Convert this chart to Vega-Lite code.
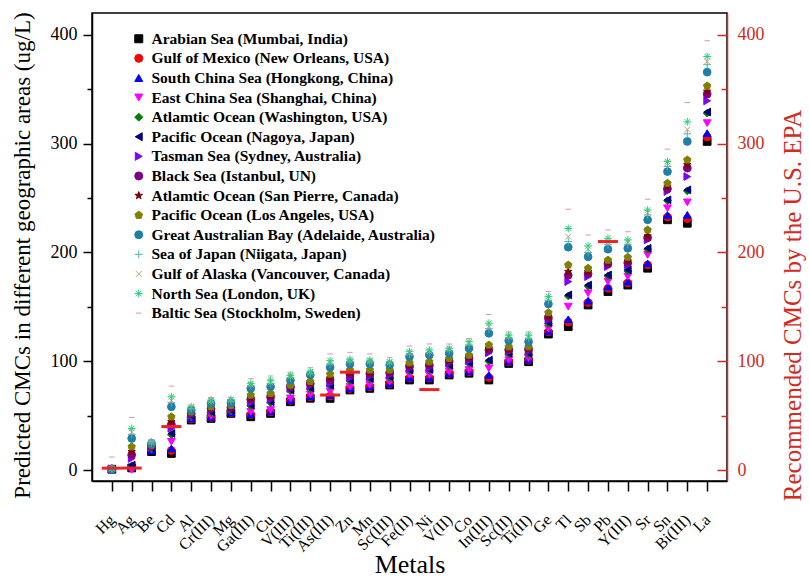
{
  "$schema": "https://vega.github.io/schema/vega-lite/v6.json",
  "width": 635,
  "height": 468,
  "autosize": {"type": "none"},
  "padding": {"left": 92, "top": 13, "right": 82, "bottom": 99},
  "background": "#ffffff",
  "config": {
    "font": "Liberation Serif",
    "view": {"stroke": "#000000", "strokeWidth": 1.5}
  },
  "datasets": {
    "sites": [
      {"k": 1, "site": "Arabian Sea (Mumbai, India)"},
      {"k": 2, "site": "Gulf of Mexico (New Orleans, USA)"},
      {"k": 3, "site": "South China Sea (Hongkong, China)"},
      {"k": 4, "site": "East China Sea (Shanghai, China)"},
      {"k": 5, "site": "Atlamtic Ocean (Washington, USA)"},
      {"k": 6, "site": "Pacific Ocean (Nagoya, Japan)"},
      {"k": 7, "site": "Tasman Sea (Sydney, Australia)"},
      {"k": 8, "site": "Black Sea (Istanbul, UN)"},
      {"k": 9, "site": "Atlamtic Ocean (San Pierre, Canada)"},
      {"k": 10, "site": "Pacific Ocean (Los Angeles, USA)"},
      {"k": 11, "site": "Great Australian Bay (Adelaide, Australia)"},
      {"k": 12, "site": "Sea of Japan (Niigata, Japan)"},
      {"k": 13, "site": "Gulf of Alaska (Vancouver, Canada)"},
      {"k": 14, "site": "North Sea (London, UK)"},
      {"k": 15, "site": "Baltic Sea (Stockholm, Sweden)"}
    ],
    "epa": [
      {"m": "Hg", "v": 1.8},
      {"m": "Ag", "v": 1.9},
      {"m": "Cd", "v": 40},
      {"m": "As(III)", "v": 69},
      {"m": "Zn", "v": 90},
      {"m": "Ni", "v": 74},
      {"m": "Pb", "v": 210}
    ],
    "cmc": [
      {"m":"Hg","k":1,"v":0.8},{"m":"Ag","k":1,"v":2},{"m":"Be","k":1,"v":17},{"m":"Cd","k":1,"v":15.3},{"m":"Al","k":1,"v":46},{"m":"Cr(III)","k":1,"v":47.5},{"m":"Mg","k":1,"v":52.1},{"m":"Ga(III)","k":1,"v":49},{"m":"Cu","k":1,"v":52.1},{"m":"V(III)","k":1,"v":62.8},{"m":"Ti(III)","k":1,"v":66},{"m":"As(III)","k":1,"v":65.9},{"m":"Zn","k":1,"v":73.6},{"m":"Mn","k":1,"v":75.1},{"m":"Sc(III)","k":1,"v":78.2},{"m":"Fe(II)","k":1,"v":82.8},{"m":"Ni","k":1,"v":82.8},{"m":"V(II)","k":1,"v":87.4},{"m":"Co","k":1,"v":89},{"m":"In(III)","k":1,"v":82.8},{"m":"Sc(II)","k":1,"v":98},{"m":"Ti(II)","k":1,"v":99.6},{"m":"Ge","k":1,"v":125},{"m":"Tl","k":1,"v":131.8},{"m":"Sb","k":1,"v":151.7},{"m":"Pb","k":1,"v":164},{"m":"Y(III)","k":1,"v":170},{"m":"Sr","k":1,"v":185.5},{"m":"Sn","k":1,"v":230},{"m":"Bi(III)","k":1,"v":226.8},{"m":"La","k":1,"v":302},
      {"m":"Hg","k":2,"v":0.9},{"m":"Ag","k":2,"v":2.5},{"m":"Be","k":2,"v":18.5},{"m":"Cd","k":2,"v":18},{"m":"Al","k":2,"v":47},{"m":"Cr(III)","k":2,"v":48.5},{"m":"Mg","k":2,"v":53},{"m":"Ga(III)","k":2,"v":51},{"m":"Cu","k":2,"v":53.5},{"m":"V(III)","k":2,"v":64},{"m":"Ti(III)","k":2,"v":67.5},{"m":"As(III)","k":2,"v":68},{"m":"Zn","k":2,"v":75},{"m":"Mn","k":2,"v":76.5},{"m":"Sc(III)","k":2,"v":79.5},{"m":"Fe(II)","k":2,"v":84.5},{"m":"Ni","k":2,"v":84.5},{"m":"V(II)","k":2,"v":88.8},{"m":"Co","k":2,"v":90.5},{"m":"In(III)","k":2,"v":85},{"m":"Sc(II)","k":2,"v":99.5},{"m":"Ti(II)","k":2,"v":101},{"m":"Ge","k":2,"v":127},{"m":"Tl","k":2,"v":136},{"m":"Sb","k":2,"v":154},{"m":"Pb","k":2,"v":167},{"m":"Y(III)","k":2,"v":172},{"m":"Sr","k":2,"v":188.5},{"m":"Sn","k":2,"v":232.5},{"m":"Bi(III)","k":2,"v":231},{"m":"La","k":2,"v":306},
      {"m":"Hg","k":3,"v":1.0},{"m":"Ag","k":3,"v":3.7},{"m":"Be","k":3,"v":18},{"m":"Cd","k":3,"v":19.9},{"m":"Al","k":3,"v":47.5},{"m":"Cr(III)","k":3,"v":49},{"m":"Mg","k":3,"v":53.2},{"m":"Ga(III)","k":3,"v":51.5},{"m":"Cu","k":3,"v":54},{"m":"V(III)","k":3,"v":64.5},{"m":"Ti(III)","k":3,"v":68},{"m":"As(III)","k":3,"v":69},{"m":"Zn","k":3,"v":75.5},{"m":"Mn","k":3,"v":77},{"m":"Sc(III)","k":3,"v":80},{"m":"Fe(II)","k":3,"v":85},{"m":"Ni","k":3,"v":85},{"m":"V(II)","k":3,"v":89.2},{"m":"Co","k":3,"v":91},{"m":"In(III)","k":3,"v":87.4},{"m":"Sc(II)","k":3,"v":100},{"m":"Ti(II)","k":3,"v":101.5},{"m":"Ge","k":3,"v":127.5},{"m":"Tl","k":3,"v":138.6},{"m":"Sb","k":3,"v":155.7},{"m":"Pb","k":3,"v":168.6},{"m":"Y(III)","k":3,"v":173.2},{"m":"Sr","k":3,"v":190},{"m":"Sn","k":3,"v":234.5},{"m":"Bi(III)","k":3,"v":234.5},{"m":"La","k":3,"v":309.6},
      {"m":"Hg","k":4,"v":0.5},{"m":"Ag","k":4,"v":0.2},{"m":"Be","k":4,"v":19},{"m":"Cd","k":4,"v":26},{"m":"Al","k":4,"v":48.5},{"m":"Cr(III)","k":4,"v":49.7},{"m":"Mg","k":4,"v":54},{"m":"Ga(III)","k":4,"v":53.6},{"m":"Cu","k":4,"v":55.2},{"m":"V(III)","k":4,"v":65.9},{"m":"Ti(III)","k":4,"v":69.5},{"m":"As(III)","k":4,"v":72},{"m":"Zn","k":4,"v":76.6},{"m":"Mn","k":4,"v":78.2},{"m":"Sc(III)","k":4,"v":81.2},{"m":"Fe(II)","k":4,"v":87.4},{"m":"Ni","k":4,"v":87.4},{"m":"V(II)","k":4,"v":90.4},{"m":"Co","k":4,"v":92},{"m":"In(III)","k":4,"v":93.5},{"m":"Sc(II)","k":4,"v":101},{"m":"Ti(II)","k":4,"v":102.7},{"m":"Ge","k":4,"v":130},{"m":"Tl","k":4,"v":150.2},{"m":"Sb","k":4,"v":162.5},{"m":"Pb","k":4,"v":173.2},{"m":"Y(III)","k":4,"v":177.8},{"m":"Sr","k":4,"v":197.7},{"m":"Sn","k":4,"v":240.6},{"m":"Bi(III)","k":4,"v":246},{"m":"La","k":4,"v":318.8},
      {"m":"Hg","k":5,"v":0.9},{"m":"Ag","k":5,"v":4.0},{"m":"Be","k":5,"v":20},{"m":"Cd","k":5,"v":32.5},{"m":"Al","k":5,"v":49.5},{"m":"Cr(III)","k":5,"v":53},{"m":"Mg","k":5,"v":54.8},{"m":"Ga(III)","k":5,"v":59},{"m":"Cu","k":5,"v":62},{"m":"V(III)","k":5,"v":72.8},{"m":"Ti(III)","k":5,"v":74.5},{"m":"As(III)","k":5,"v":77.5},{"m":"Zn","k":5,"v":82},{"m":"Mn","k":5,"v":83.5},{"m":"Sc(III)","k":5,"v":85},{"m":"Fe(II)","k":5,"v":91.3},{"m":"Ni","k":5,"v":91.8},{"m":"V(II)","k":5,"v":95.8},{"m":"Co","k":5,"v":98},{"m":"In(III)","k":5,"v":100},{"m":"Sc(II)","k":5,"v":106.5},{"m":"Ti(II)","k":5,"v":106.5},{"m":"Ge","k":5,"v":134.5},{"m":"Tl","k":5,"v":160},{"m":"Sb","k":5,"v":169},{"m":"Pb","k":5,"v":178.5},{"m":"Y(III)","k":5,"v":183},{"m":"Sr","k":5,"v":203},{"m":"Sn","k":5,"v":247.5},{"m":"Bi(III)","k":5,"v":256.5},{"m":"La","k":5,"v":328},
      {"m":"Hg","k":6,"v":1.0},{"m":"Ag","k":6,"v":4.6},{"m":"Be","k":6,"v":20.5},{"m":"Cd","k":6,"v":33.7},{"m":"Al","k":6,"v":50},{"m":"Cr(III)","k":6,"v":53.6},{"m":"Mg","k":6,"v":55.2},{"m":"Ga(III)","k":6,"v":59.8},{"m":"Cu","k":6,"v":62.8},{"m":"V(III)","k":6,"v":73.6},{"m":"Ti(III)","k":6,"v":75.5},{"m":"As(III)","k":6,"v":78.2},{"m":"Zn","k":6,"v":82.8},{"m":"Mn","k":6,"v":84.3},{"m":"Sc(III)","k":6,"v":85.8},{"m":"Fe(II)","k":6,"v":92},{"m":"Ni","k":6,"v":92.6},{"m":"V(II)","k":6,"v":96.6},{"m":"Co","k":6,"v":98.7},{"m":"In(III)","k":6,"v":101},{"m":"Sc(II)","k":6,"v":107.3},{"m":"Ti(II)","k":6,"v":107.3},{"m":"Ge","k":6,"v":135.5},{"m":"Tl","k":6,"v":161},{"m":"Sb","k":6,"v":170},{"m":"Pb","k":6,"v":179.3},{"m":"Y(III)","k":6,"v":184},{"m":"Sr","k":6,"v":203.8},{"m":"Sn","k":6,"v":248.3},{"m":"Bi(III)","k":6,"v":257.5},{"m":"La","k":6,"v":329},
      {"m":"Hg","k":7,"v":1.1},{"m":"Ag","k":7,"v":10.7},{"m":"Be","k":7,"v":21},{"m":"Cd","k":7,"v":38.5},{"m":"Al","k":7,"v":51},{"m":"Cr(III)","k":7,"v":55},{"m":"Mg","k":7,"v":56.5},{"m":"Ga(III)","k":7,"v":62},{"m":"Cu","k":7,"v":65},{"m":"V(III)","k":7,"v":75},{"m":"Ti(III)","k":7,"v":77.5},{"m":"As(III)","k":7,"v":79.7},{"m":"Zn","k":7,"v":85},{"m":"Mn","k":7,"v":86},{"m":"Sc(III)","k":7,"v":87.5},{"m":"Fe(II)","k":7,"v":93.5},{"m":"Ni","k":7,"v":94},{"m":"V(II)","k":7,"v":98},{"m":"Co","k":7,"v":100.5},{"m":"In(III)","k":7,"v":107.8},{"m":"Sc(II)","k":7,"v":109},{"m":"Ti(II)","k":7,"v":109},{"m":"Ge","k":7,"v":138},{"m":"Tl","k":7,"v":173.2},{"m":"Sb","k":7,"v":177.8},{"m":"Pb","k":7,"v":187},{"m":"Y(III)","k":7,"v":188.5},{"m":"Sr","k":7,"v":211.5},{"m":"Sn","k":7,"v":256},{"m":"Bi(III)","k":7,"v":269.7},{"m":"La","k":7,"v":339.3},
      {"m":"Hg","k":8,"v":1.2},{"m":"Ag","k":8,"v":14},{"m":"Be","k":8,"v":22},{"m":"Cd","k":8,"v":42},{"m":"Al","k":8,"v":52},{"m":"Cr(III)","k":8,"v":56.5},{"m":"Mg","k":8,"v":57.5},{"m":"Ga(III)","k":8,"v":65},{"m":"Cu","k":8,"v":67.5},{"m":"V(III)","k":8,"v":76.5},{"m":"Ti(III)","k":8,"v":79.5},{"m":"As(III)","k":8,"v":83},{"m":"Zn","k":8,"v":88},{"m":"Mn","k":8,"v":88.5},{"m":"Sc(III)","k":8,"v":89.5},{"m":"Fe(II)","k":8,"v":95.5},{"m":"Ni","k":8,"v":96.5},{"m":"V(II)","k":8,"v":100},{"m":"Co","k":8,"v":103},{"m":"In(III)","k":8,"v":110.5},{"m":"Sc(II)","k":8,"v":110.5},{"m":"Ti(II)","k":8,"v":111},{"m":"Ge","k":8,"v":140},{"m":"Tl","k":8,"v":179},{"m":"Sb","k":8,"v":180.5},{"m":"Pb","k":8,"v":189.5},{"m":"Y(III)","k":8,"v":190.5},{"m":"Sr","k":8,"v":213.5},{"m":"Sn","k":8,"v":258.5},{"m":"Bi(III)","k":8,"v":277.5},{"m":"La","k":8,"v":345.5},
      {"m":"Hg","k":9,"v":1.2},{"m":"Ag","k":9,"v":16.9},{"m":"Be","k":9,"v":22.5},{"m":"Cd","k":9,"v":44.4},{"m":"Al","k":9,"v":52.5},{"m":"Cr(III)","k":9,"v":57},{"m":"Mg","k":9,"v":58},{"m":"Ga(III)","k":9,"v":66},{"m":"Cu","k":9,"v":68.5},{"m":"V(III)","k":9,"v":77},{"m":"Ti(III)","k":9,"v":80},{"m":"As(III)","k":9,"v":84.5},{"m":"Zn","k":9,"v":89},{"m":"Mn","k":9,"v":89.5},{"m":"Sc(III)","k":9,"v":90.3},{"m":"Fe(II)","k":9,"v":96.5},{"m":"Ni","k":9,"v":97.5},{"m":"V(II)","k":9,"v":100.8},{"m":"Co","k":9,"v":104},{"m":"In(III)","k":9,"v":112},{"m":"Sc(II)","k":9,"v":111},{"m":"Ti(II)","k":9,"v":111.5},{"m":"Ge","k":9,"v":141},{"m":"Tl","k":9,"v":182.4},{"m":"Sb","k":9,"v":182.4},{"m":"Pb","k":9,"v":190.5},{"m":"Y(III)","k":9,"v":192},{"m":"Sr","k":9,"v":215},{"m":"Sn","k":9,"v":260.5},{"m":"Bi(III)","k":9,"v":280.5},{"m":"La","k":9,"v":348},
      {"m":"Hg","k":10,"v":1.3},{"m":"Ag","k":10,"v":21.5},{"m":"Be","k":10,"v":23},{"m":"Cd","k":10,"v":49},{"m":"Al","k":10,"v":53.5},{"m":"Cr(III)","k":10,"v":58.2},{"m":"Mg","k":10,"v":59.5},{"m":"Ga(III)","k":10,"v":69},{"m":"Cu","k":10,"v":70.5},{"m":"V(III)","k":10,"v":78.2},{"m":"Ti(III)","k":10,"v":81.5},{"m":"As(III)","k":10,"v":88.3},{"m":"Zn","k":10,"v":92},{"m":"Mn","k":10,"v":92},{"m":"Sc(III)","k":10,"v":92},{"m":"Fe(II)","k":10,"v":98.7},{"m":"Ni","k":10,"v":99.6},{"m":"V(II)","k":10,"v":102.7},{"m":"Co","k":10,"v":105.7},{"m":"In(III)","k":10,"v":115},{"m":"Sc(II)","k":10,"v":113.4},{"m":"Ti(II)","k":10,"v":113.4},{"m":"Ge","k":10,"v":144.7},{"m":"Tl","k":10,"v":188.5},{"m":"Sb","k":10,"v":185.5},{"m":"Pb","k":10,"v":193},{"m":"Y(III)","k":10,"v":195.6},{"m":"Sr","k":10,"v":220.7},{"m":"Sn","k":10,"v":263.6},{"m":"Bi(III)","k":10,"v":285},{"m":"La","k":10,"v":353},
      {"m":"Hg","k":11,"v":0.6},{"m":"Ag","k":11,"v":29.1},{"m":"Be","k":11,"v":24.5},{"m":"Cd","k":11,"v":58.2},{"m":"Al","k":11,"v":55.2},{"m":"Cr(III)","k":11,"v":61.3},{"m":"Mg","k":11,"v":61.9},{"m":"Ga(III)","k":11,"v":75.1},{"m":"Cu","k":11,"v":76.6},{"m":"V(III)","k":11,"v":82.5},{"m":"Ti(III)","k":11,"v":87.4},{"m":"As(III)","k":11,"v":94.4},{"m":"Zn","k":11,"v":97.5},{"m":"Mn","k":11,"v":97.5},{"m":"Sc(III)","k":11,"v":96.6},{"m":"Fe(II)","k":11,"v":104.2},{"m":"Ni","k":11,"v":105.7},{"m":"V(II)","k":11,"v":107.3},{"m":"Co","k":11,"v":111.9},{"m":"In(III)","k":11,"v":125.7},{"m":"Sc(II)","k":11,"v":119},{"m":"Ti(II)","k":11,"v":118},{"m":"Ge","k":11,"v":152.6},{"m":"Tl","k":11,"v":204.8},{"m":"Sb","k":11,"v":196},{"m":"Pb","k":11,"v":203},{"m":"Y(III)","k":11,"v":203.8},{"m":"Sr","k":11,"v":230},{"m":"Sn","k":11,"v":274.3},{"m":"Bi(III)","k":11,"v":302},{"m":"La","k":11,"v":365.7},
      {"m":"Hg","k":12,"v":1.4},{"m":"Ag","k":12,"v":33},{"m":"Be","k":12,"v":25},{"m":"Cd","k":12,"v":62},{"m":"Al","k":12,"v":56.5},{"m":"Cr(III)","k":12,"v":63},{"m":"Mg","k":12,"v":63.5},{"m":"Ga(III)","k":12,"v":77.5},{"m":"Cu","k":12,"v":79.5},{"m":"V(III)","k":12,"v":85},{"m":"Ti(III)","k":12,"v":89},{"m":"As(III)","k":12,"v":97.5},{"m":"Zn","k":12,"v":100},{"m":"Mn","k":12,"v":99.5},{"m":"Sc(III)","k":12,"v":98.5},{"m":"Fe(II)","k":12,"v":106.5},{"m":"Ni","k":12,"v":108},{"m":"V(II)","k":12,"v":110},{"m":"Co","k":12,"v":115},{"m":"In(III)","k":12,"v":130},{"m":"Sc(II)","k":12,"v":121.5},{"m":"Ti(II)","k":12,"v":121},{"m":"Ge","k":12,"v":156},{"m":"Tl","k":12,"v":210},{"m":"Sb","k":12,"v":200},{"m":"Pb","k":12,"v":207},{"m":"Y(III)","k":12,"v":207.5},{"m":"Sr","k":12,"v":234.5},{"m":"Sn","k":12,"v":279},{"m":"Bi(III)","k":12,"v":309},{"m":"La","k":12,"v":372.5},
      {"m":"Hg","k":13,"v":1.5},{"m":"Ag","k":13,"v":35},{"m":"Be","k":13,"v":25.5},{"m":"Cd","k":13,"v":64},{"m":"Al","k":13,"v":57.5},{"m":"Cr(III)","k":13,"v":63.5},{"m":"Mg","k":13,"v":64.5},{"m":"Ga(III)","k":13,"v":78.5},{"m":"Cu","k":13,"v":80.5},{"m":"V(III)","k":13,"v":86},{"m":"Ti(III)","k":13,"v":89.5},{"m":"As(III)","k":13,"v":98.5},{"m":"Zn","k":13,"v":100.5},{"m":"Mn","k":13,"v":100},{"m":"Sc(III)","k":13,"v":99},{"m":"Fe(II)","k":13,"v":107.5},{"m":"Ni","k":13,"v":109},{"m":"V(II)","k":13,"v":110.8},{"m":"Co","k":13,"v":116.5},{"m":"In(III)","k":13,"v":132},{"m":"Sc(II)","k":13,"v":122.5},{"m":"Ti(II)","k":13,"v":122},{"m":"Ge","k":13,"v":157.5},{"m":"Tl","k":13,"v":214.5},{"m":"Sb","k":13,"v":203},{"m":"Pb","k":13,"v":209.5},{"m":"Y(III)","k":13,"v":209.5},{"m":"Sr","k":13,"v":236.5},{"m":"Sn","k":13,"v":282},{"m":"Bi(III)","k":13,"v":313},{"m":"La","k":13,"v":375.5},
      {"m":"Hg","k":14,"v":1.6},{"m":"Ag","k":14,"v":38.3},{"m":"Be","k":14,"v":26},{"m":"Cd","k":14,"v":67.4},{"m":"Al","k":14,"v":58.2},{"m":"Cr(III)","k":14,"v":64.4},{"m":"Mg","k":14,"v":65},{"m":"Ga(III)","k":14,"v":79.7},{"m":"Cu","k":14,"v":82.8},{"m":"V(III)","k":14,"v":87},{"m":"Ti(III)","k":14,"v":90.4},{"m":"As(III)","k":14,"v":100.5},{"m":"Zn","k":14,"v":101.8},{"m":"Mn","k":14,"v":101.1},{"m":"Sc(III)","k":14,"v":99.6},{"m":"Fe(II)","k":14,"v":108.8},{"m":"Ni","k":14,"v":110.3},{"m":"V(II)","k":14,"v":111.9},{"m":"Co","k":14,"v":118},{"m":"In(III)","k":14,"v":135},{"m":"Sc(II)","k":14,"v":124},{"m":"Ti(II)","k":14,"v":124},{"m":"Ge","k":14,"v":159.4},{"m":"Tl","k":14,"v":222},{"m":"Sb","k":14,"v":206},{"m":"Pb","k":14,"v":213},{"m":"Y(III)","k":14,"v":211.5},{"m":"Sr","k":14,"v":239},{"m":"Sn","k":14,"v":283.5},{"m":"Bi(III)","k":14,"v":320},{"m":"La","k":14,"v":380},
      {"m":"Hg","k":15,"v":12},{"m":"Ag","k":15,"v":48.4},{"m":"Be","k":15,"v":26.5},{"m":"Cd","k":15,"v":77.2},{"m":"Al","k":15,"v":59.5},{"m":"Cr(III)","k":15,"v":66.8},{"m":"Mg","k":15,"v":66.8},{"m":"Ga(III)","k":15,"v":84},{"m":"Cu","k":15,"v":86.5},{"m":"V(III)","k":15,"v":90},{"m":"Ti(III)","k":15,"v":94.1},{"m":"As(III)","k":15,"v":106.7},{"m":"Zn","k":15,"v":108.2},{"m":"Mn","k":15,"v":106.7},{"m":"Sc(III)","k":15,"v":103.6},{"m":"Fe(II)","k":15,"v":114},{"m":"Ni","k":15,"v":115.9},{"m":"V(II)","k":15,"v":115.9},{"m":"Co","k":15,"v":121},{"m":"In(III)","k":15,"v":143},{"m":"Sc(II)","k":15,"v":127},{"m":"Ti(II)","k":15,"v":127},{"m":"Ge","k":15,"v":164},{"m":"Tl","k":15,"v":239.7},{"m":"Sb","k":15,"v":216},{"m":"Pb","k":15,"v":220.7},{"m":"Y(III)","k":15,"v":219},{"m":"Sr","k":15,"v":248.9},{"m":"Sn","k":15,"v":294.9},{"m":"Bi(III)","k":15,"v":337.8},{"m":"La","k":15,"v":394.5}
    ]
  },
  "layer": [
    {
      "data": {"name": "cmc"},
      "transform": [
        {"lookup": "k", "from": {"data": {"name": "sites"}, "key": "k", "fields": ["site"]}}
      ],
      "mark": {"type": "point", "filled": true, "size": 60, "strokeWidth": 1, "opacity": 1},
      "encoding": {
        "x": {
          "field": "m",
          "type": "nominal",
          "sort": null,
          "scale": {
            "type": "point",
            "padding": 1,
            "domain": ["Hg","Ag","Be","Cd","Al","Cr(III)","Mg","Ga(III)","Cu","V(III)","Ti(III)","As(III)","Zn","Mn","Sc(III)","Fe(II)","Ni","V(II)","Co","In(III)","Sc(II)","Ti(II)","Ge","Tl","Sb","Pb","Y(III)","Sr","Sn","Bi(III)","La"]
          },
          "axis": {
            "title": "Metals",
            "titleFont": "Liberation Serif",
            "titleFontSize": 26,
            "titleFontWeight": "normal",
            "titleColor": "#000000",
            "titlePadding": -3,
            "labelAngle": -45,
            "labelAlign": "right",
            "labelBaseline": "middle",
            "labelFont": "Liberation Serif",
            "labelFontSize": 16,
            "labelColor": "#000000",
            "labelPadding": 26,
            "labelOverlap": false,
            "labelBound": false,
            "tickSize": 10,
            "tickColor": "#000000",
            "tickWidth": 1.5,
            "domainColor": "#000000",
            "domainWidth": 1.5,
            "grid": false
          }
        },
        "y": {
          "field": "v",
          "type": "quantitative",
          "scale": {"domain": [-10, 420], "nice": false, "zero": false},
          "axis": {
            "orient": "left",
            "title": "Predicted CMCs in different geographic areas (ug/L)",
            "titleFont": "Liberation Serif",
            "titleFontSize": 23,
            "titleFontWeight": "normal",
            "titleColor": "#000000",
            "titlePadding": 16,
            "titleY": 242,
            "values": [0, 50, 100, 150, 200, 250, 300, 350, 400],
            "labelExpr": "datum.value % 100 === 0 ? datum.label : ''",
            "labelFont": "Liberation Serif",
            "labelFontSize": 18,
            "labelColor": "#000000",
            "labelPadding": 6,
            "tickSize": {"condition": {"test": "datum.value % 100 === 0", "value": 9}, "value": 5},
            "tickColor": "#000000",
            "tickWidth": 1.5,
            "domainColor": "#000000",
            "domainWidth": 1.5,
            "grid": false
          }
        },
        "shape": {
          "field": "site",
          "type": "nominal",
          "scale": {
            "domain": ["Arabian Sea (Mumbai, India)","Gulf of Mexico (New Orleans, USA)","South China Sea (Hongkong, China)","East China Sea (Shanghai, China)","Atlamtic Ocean (Washington, USA)","Pacific Ocean (Nagoya, Japan)","Tasman Sea (Sydney, Australia)","Black Sea (Istanbul, UN)","Atlamtic Ocean (San Pierre, Canada)","Pacific Ocean (Los Angeles, USA)","Great Australian Bay (Adelaide, Australia)","Sea of Japan (Niigata, Japan)","Gulf of Alaska (Vancouver, Canada)","North Sea (London, UK)","Baltic Sea (Stockholm, Sweden)"],
            "range": [
              "square",
              "circle",
              "triangle-up",
              "triangle-down",
              "diamond",
              "triangle-left",
              "triangle-right",
              "circle",
              "M0,-1L0.235,-0.324L0.951,-0.309L0.38,0.124L0.588,0.809L0,0.4L-0.588,0.809L-0.38,0.124L-0.951,-0.309L-0.235,-0.324Z",
              "M0,-1L0.951,-0.309L0.588,0.809L-0.588,0.809L-0.951,-0.309Z",
              "circle",
              "M-1,0H1M0,-1V1",
              "M-0.75,-0.75L0.75,0.75M-0.75,0.75L0.75,-0.75",
              "M-1,0H1M0,-1V1M-0.7,-0.7L0.7,0.7M-0.7,0.7L0.7,-0.7",
              "M-0.7,0H0.7"
            ]
          },
          "legend": {
            "title": null,
            "orient": "none",
            "legendX": 39,
            "legendY": 18,
            "padding": 0,
            "symbolSize": 64,
            "symbolStrokeWidth": 1,
            "labelFont": "Liberation Serif",
            "labelFontSize": 15.5,
            "labelFontWeight": "bold",
            "labelColor": "#000000",
            "labelOffset": 5,
            "labelLimit": 400,
            "rowPadding": 2.6
          }
        },
        "fill": {
          "field": "site",
          "type": "nominal",
          "scale": {
            "domain": ["Arabian Sea (Mumbai, India)","Gulf of Mexico (New Orleans, USA)","South China Sea (Hongkong, China)","East China Sea (Shanghai, China)","Atlamtic Ocean (Washington, USA)","Pacific Ocean (Nagoya, Japan)","Tasman Sea (Sydney, Australia)","Black Sea (Istanbul, UN)","Atlamtic Ocean (San Pierre, Canada)","Pacific Ocean (Los Angeles, USA)","Great Australian Bay (Adelaide, Australia)","Sea of Japan (Niigata, Japan)","Gulf of Alaska (Vancouver, Canada)","North Sea (London, UK)","Baltic Sea (Stockholm, Sweden)"],
            "range": ["#000000","#ff0000","#0000ff","#ff00ff","#008000","#000080","#8000ff","#800080","#800000","#808000","#1f7fa6","#4cb3b3","#c4a07a","#22d07a","#e08fb8"]
          },
          "legend": {
            "title": null,
            "orient": "none",
            "legendX": 39,
            "legendY": 18,
            "padding": 0,
            "symbolSize": 64,
            "symbolStrokeWidth": 1,
            "labelFont": "Liberation Serif",
            "labelFontSize": 15.5,
            "labelFontWeight": "bold",
            "labelColor": "#000000",
            "labelOffset": 5,
            "labelLimit": 400,
            "rowPadding": 2.6
          }
        },
        "stroke": {
          "field": "site",
          "type": "nominal",
          "scale": {
            "domain": ["Arabian Sea (Mumbai, India)","Gulf of Mexico (New Orleans, USA)","South China Sea (Hongkong, China)","East China Sea (Shanghai, China)","Atlamtic Ocean (Washington, USA)","Pacific Ocean (Nagoya, Japan)","Tasman Sea (Sydney, Australia)","Black Sea (Istanbul, UN)","Atlamtic Ocean (San Pierre, Canada)","Pacific Ocean (Los Angeles, USA)","Great Australian Bay (Adelaide, Australia)","Sea of Japan (Niigata, Japan)","Gulf of Alaska (Vancouver, Canada)","North Sea (London, UK)","Baltic Sea (Stockholm, Sweden)"],
            "range": ["#000000","#ff0000","#0000ff","#ff00ff","#008000","#000080","#8000ff","#800080","#800000","#808000","#1f7fa6","#4cb3b3","#c4a07a","#22d07a","#e08fb8"]
          },
          "legend": {
            "title": null,
            "orient": "none",
            "legendX": 39,
            "legendY": 18,
            "padding": 0,
            "symbolSize": 64,
            "symbolStrokeWidth": 1,
            "labelFont": "Liberation Serif",
            "labelFontSize": 15.5,
            "labelFontWeight": "bold",
            "labelColor": "#000000",
            "labelOffset": 5,
            "labelLimit": 400,
            "rowPadding": 2.6
          }
        }
      }
    },
    {
      "data": {"name": "epa"},
      "mark": {"type": "tick", "thickness": 3, "size": 20, "color": "#ee2222", "opacity": 1},
      "encoding": {
        "x": {"field": "m", "type": "nominal", "sort": null},
        "y": {
          "field": "v",
          "type": "quantitative",
          "axis": {
            "orient": "right",
            "title": "Recommended CMCs by the U.S. EPA",
            "titleFont": "Liberation Serif",
            "titleFontSize": 25,
            "titleFontWeight": "normal",
            "titleColor": "#d42a20",
            "titleAngle": -90,
            "titleBaseline": "top",
            "titlePadding": 16,
            "titleY": 292,
            "values": [0, 50, 100, 150, 200, 250, 300, 350, 400],
            "labelExpr": "datum.value % 100 === 0 ? datum.label : ''",
            "labelFont": "Liberation Serif",
            "labelFontSize": 18,
            "labelColor": "#d42a20",
            "labelPadding": 20,
            "tickSize": {"condition": {"test": "datum.value % 100 === 0", "value": -10}, "value": -6},
            "tickColor": "#d42a20",
            "tickWidth": 1.5,
            "domainColor": "#d42a20",
            "domainWidth": 1.5,
            "grid": false
          }
        }
      }
    }
  ],
  "resolve": {"axis": {"y": "independent"}}
}
